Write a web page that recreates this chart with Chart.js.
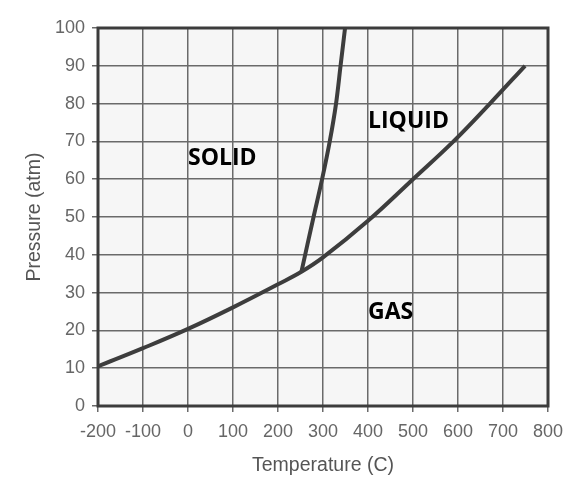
<!DOCTYPE html>
<html>
<head>
<meta charset="utf-8">
<script src="https://cdn.jsdelivr.net/npm/chart.js@4"></script>
<style>
  html, body { margin: 0; padding: 0; background: #ffffff; }
  #wrap { width: 584px; height: 490px; }
</style>
</head>
<body>
<div id="wrap"><canvas id="c" width="584" height="490"></canvas></div>
<script>
// Temperature (C) / Pressure (atm) points
const boilTemps = [-200, -100, 0, 100, 200, 252, 300, 400, 500, 590, 671, 749];
const boilPress = [10.5, 15.3, 20.4, 26.1, 32.2, 35.5, 39.3, 49, 60, 70, 80, 90];
const meltTemps = [252, 279, 298, 315, 329, 339, 349];
const meltPress = [35.5, 50, 60, 70, 80, 90, 100];

const xTicks = [-200, -100, 0, 100, 200, 300, 400, 500, 600, 700, 800];
const yTicks = [0, 10, 20, 30, 40, 50, 60, 70, 80, 90, 100];

const regionNames = ['SOLID', 'LIQUID', 'GAS'];
const regionTemps = [0, 400, 400];
const regionPress = [65.6, 75.3, 24.7];

const toPts = (xs, ys) => xs.map((x, i) => ({ x: x, y: ys[i] }));

const frame = {
  id: 'frame',
  beforeDraw(chart) {
    const { ctx, chartArea: a } = chart;
    ctx.save();
    ctx.fillStyle = '#f6f6f6';
    ctx.fillRect(a.left, a.top, a.right - a.left, a.bottom - a.top);
    ctx.restore();
  },
  afterDatasetsDraw(chart) {
    const { ctx, chartArea: a, scales } = chart;
    ctx.save();
    ctx.strokeStyle = '#3c3c3c';
    ctx.lineWidth = 3;
    ctx.strokeRect(a.left, a.top, a.right - a.left, a.bottom - a.top);
    ctx.fillStyle = '#000000';
    ctx.font = 'bold 23px "Open Sans"';
    ctx.textAlign = 'left';
    ctx.textBaseline = 'middle';
    regionNames.forEach((n, i) => {
      ctx.fillText(n, scales.x.getPixelForValue(regionTemps[i]), scales.y.getPixelForValue(regionPress[i]));
    });
    ctx.restore();
  }
};

new Chart(document.getElementById('c'), {
  type: 'scatter',
  data: {
    datasets: [
      {
        data: toPts(boilTemps, boilPress),
        showLine: true,
        borderColor: '#3d3d3d',
        borderWidth: 4,
        pointRadius: 0,
        tension: 0.4,
        fill: false
      },
      {
        data: toPts(meltTemps, meltPress),
        showLine: true,
        borderColor: '#3d3d3d',
        borderWidth: 4,
        pointRadius: 0,
        tension: 0.3,
        fill: false
      }
    ]
  },
  options: {
    responsive: false,
    animation: false,
    devicePixelRatio: 1,
    layout: { padding: { left: 0, top: 28, right: 36, bottom: 0 } },
    plugins: { legend: { display: false }, tooltip: { enabled: false } },
    scales: {
      x: {
        type: 'linear',
        min: -200, max: 800,
        afterBuildTicks: s => { s.ticks = xTicks.map(v => ({ value: v })); },
        afterFit: s => { s.height = 84; },
        grid: { color: '#6a6a6a', lineWidth: 1.5, tickLength: 6 },
        border: { display: false },
        ticks: { color: '#666666', font: { family: '"Liberation Sans", Arial', size: 18 }, padding: 9, maxRotation: 0 },
        title: { display: true, text: 'Temperature (C)', color: '#555555', font: { family: '"Liberation Sans", Arial', size: 19.5 }, padding: { top: 0, bottom: 13 } }
      },
      y: {
        type: 'linear',
        min: 0, max: 100,
        afterBuildTicks: s => { s.ticks = yTicks.map(v => ({ value: v })); },
        afterFit: s => { s.width = 98; },
        grid: { color: '#6a6a6a', lineWidth: 1.5, tickLength: 6 },
        border: { display: false },
        ticks: { color: '#666666', font: { family: '"Liberation Sans", Arial', size: 18 }, padding: 7 },
        title: { display: true, text: 'Pressure (atm)', color: '#555555', font: { family: '"Liberation Sans", Arial', size: 19.5 }, padding: { top: 23, bottom: 0 } }
      }
    }
  },
  plugins: [frame]
});
</script>
</body>
</html>
